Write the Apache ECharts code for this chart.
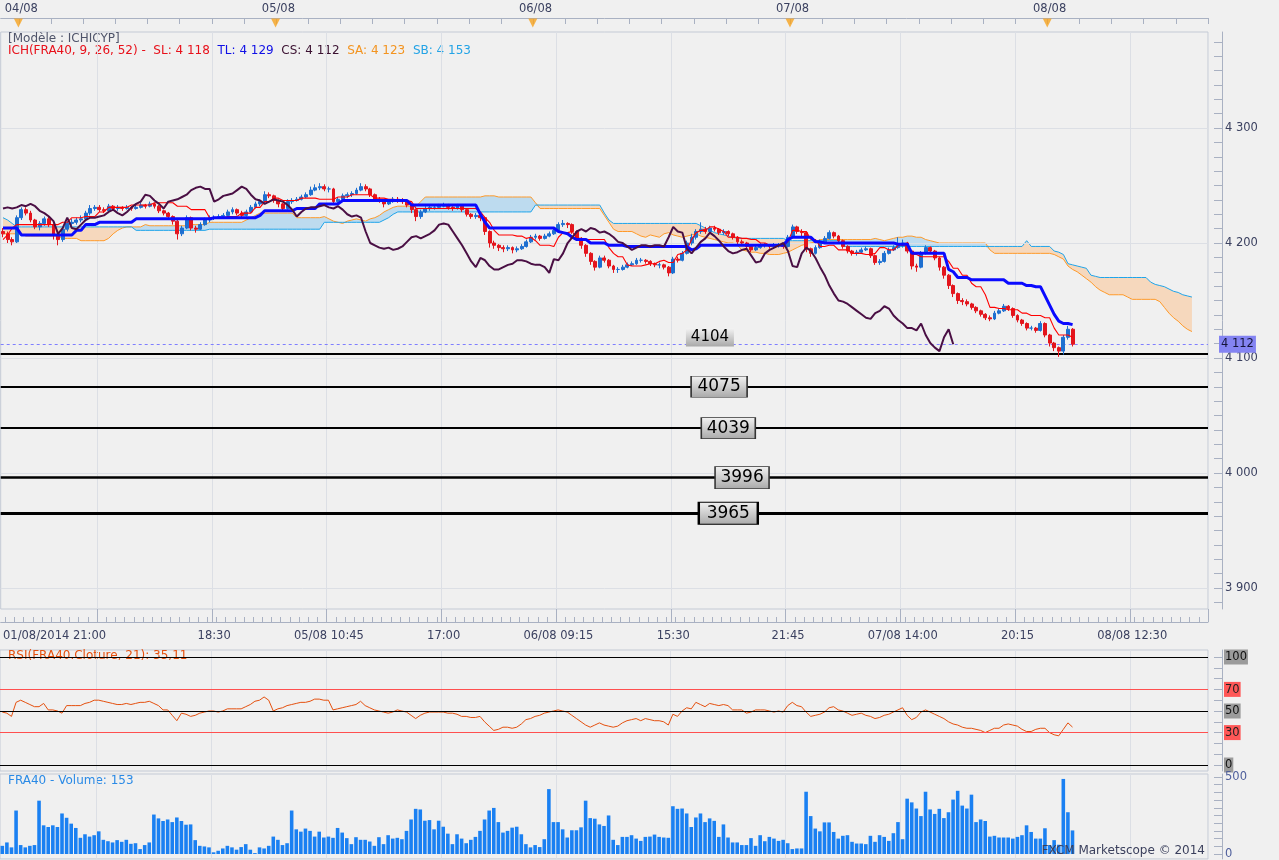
<!DOCTYPE html>
<html>
<head>
<meta charset="utf-8">
<title>FRA40 Ichimoku</title>
<script src="https://cdn.jsdelivr.net/npm/echarts@6/dist/echarts.min.js"></script>
<style>
html, body { margin: 0; padding: 0; background: #f0f0f0; }
#chart { width: 1279px; height: 860px; }
</style>
</head>
<body>
<div id="chart"></div>
<script>
// ---- data (15 min bars) ----
var closes = [
  4208,4203,4201,4222,4229,4226,4220,4214,4217,4221,
  4216,4207,4203,4212,4217,4218,4220,4221,4226,4230,
  4231,4229,4228,4232,4230,4231,4230,4231,4230,4231,
  4233,4232,4234,4232,4228,4226,4223,4219,4208,4213,
  4222,4213,4212,4216,4220,4222,4222,4223,4224,4227,
  4229,4226,4224,4227,4231,4234,4236,4242,4241,4237,
  4234,4230,4236,4237,4238,4240,4242,4246,4248,4249,
  4247,4247,4236,4238,4241,4242,4243,4246,4249,4247,
  4242,4238,4237,4234,4236,4238,4237,4236,4233,4229,
  4223,4227,4230,4231,4231,4232,4233,4231,4230,4232,
  4229,4225,4223,4224,4222,4210,4200,4198,4196,4195,
  4196,4194,4195,4197,4201,4205,4206,4204,4206,4208,
  4211,4216,4217,4216,4210,4204,4198,4191,4184,4179,
  4187,4185,4180,4177,4177,4179,4181,4182,4185,4185,
  4184,4182,4181,4181,4179,4174,4186,4185,4191,4200,
  4205,4210,4212,4210,4213,4212,4209,4210,4208,4205,
  4201,4200,4197,4194,4196,4198,4198,4197,4198,4198,
  4197,4205,4214,4210,4209,4195,4191,4196,4201,4204,
  4209,4206,4202,4197,4193,4191,4192,4194,4195,4189,
  4183,4184,4191,4194,4196,4198,4200,4193,4180,4179,
  4191,4196,4193,4187,4179,4172,4163,4156,4150,4149,
  4147,4144,4141,4138,4135,4134,4139,4141,4145,4143,
  4137,4133,4130,4126,4126,4124,4130,4120,4113,4109,
  4106,4118,4125,4112
];
var opens = [
  4210,4208,4203,4201,4222,4229,4226,4220,4214,4217,
  4221,4216,4207,4203,4212,4217,4218,4220,4221,4226,
  4230,4231,4229,4228,4232,4230,4231,4230,4231,4230,
  4231,4233,4232,4234,4232,4228,4226,4223,4219,4208,
  4213,4222,4213,4212,4216,4220,4222,4222,4223,4224,
  4227,4229,4226,4224,4227,4231,4234,4236,4242,4241,
  4237,4234,4230,4236,4237,4238,4240,4242,4246,4248,
  4249,4247,4247,4236,4238,4241,4242,4243,4246,4249,
  4247,4242,4238,4237,4234,4236,4238,4237,4236,4233,
  4229,4223,4227,4230,4231,4231,4232,4233,4231,4230,
  4232,4229,4225,4223,4224,4222,4210,4200,4198,4196,
  4195,4196,4194,4195,4197,4201,4205,4206,4204,4206,
  4208,4211,4216,4217,4216,4210,4204,4198,4191,4184,
  4179,4187,4185,4180,4177,4177,4179,4181,4182,4185,
  4185,4184,4182,4181,4181,4179,4174,4186,4185,4191,
  4200,4205,4210,4212,4210,4213,4212,4209,4210,4208,
  4205,4201,4200,4197,4194,4196,4198,4198,4197,4198,
  4198,4197,4205,4214,4210,4209,4195,4191,4196,4201,
  4204,4209,4206,4202,4197,4193,4191,4192,4194,4195,
  4189,4183,4184,4191,4194,4196,4198,4200,4193,4180,
  4179,4191,4196,4193,4187,4179,4172,4163,4156,4150,
  4149,4147,4144,4141,4138,4135,4134,4139,4141,4145,
  4143,4137,4133,4130,4126,4126,4124,4130,4120,4113,
  4109,4106,4118,4125
];
var lows = [
  4205,4200,4198,4200,4220,4224,4218,4212,4211,4215,
  4214,4203,4198,4201,4210,4215,4216,4218,4219,4224,
  4228,4227,4226,4226,4228,4228,4228,4229,4228,4229,
  4230,4230,4231,4230,4226,4224,4221,4216,4203,4206,
  4212,4211,4209,4211,4215,4218,4220,4221,4222,4223,
  4225,4224,4222,4223,4226,4230,4232,4235,4239,4235,
  4231,4227,4229,4234,4236,4237,4239,4241,4245,4246,
  4245,4244,4233,4234,4237,4239,4240,4242,4245,4245,
  4240,4236,4235,4231,4233,4235,4235,4234,4231,4226,
  4219,4221,4226,4228,4229,4230,4231,4229,4228,4229,
  4227,4223,4221,4221,4219,4207,4196,4195,4193,4192,
  4193,4191,4192,4194,4196,4200,4203,4202,4203,4205,
  4207,4210,4214,4213,4208,4202,4195,4188,4181,4176,
  4178,4183,4178,4174,4174,4176,4178,4180,4181,4183,
  4182,4180,4179,4178,4177,4171,4173,4183,4184,4190,
  4198,4203,4208,4208,4209,4210,4207,4207,4206,4203,
  4199,4198,4195,4192,4193,4195,4196,4195,4196,4196,
  4195,4196,4204,4208,4206,4192,4188,4190,4195,4200,
  4203,4204,4200,4195,4191,4189,4189,4191,4193,4187,
  4181,4181,4183,4190,4193,4195,4196,4191,4177,4175,
  4178,4190,4191,4185,4176,4169,4160,4153,4147,4146,
  4145,4142,4139,4136,4133,4132,4133,4138,4140,4141,
  4135,4131,4128,4124,4124,4122,4123,4118,4110,4106,
  4101,4103,4116,4110
];
var highs = [
  4213,4210,4205,4224,4231,4231,4228,4221,4219,4223,
  4223,4217,4209,4214,4219,4221,4222,4224,4228,4233,
  4233,4233,4231,4234,4233,4233,4232,4233,4232,4233,
  4235,4234,4236,4235,4233,4229,4227,4224,4220,4215,
  4224,4223,4215,4218,4222,4224,4224,4225,4226,4229,
  4231,4230,4228,4229,4233,4236,4238,4245,4244,4242,
  4238,4235,4238,4239,4240,4242,4244,4249,4251,4252,
  4251,4249,4248,4240,4243,4244,4245,4248,4252,4251,
  4248,4243,4240,4238,4238,4240,4240,4239,4237,4234,
  4230,4229,4232,4233,4233,4234,4235,4234,4232,4234,
  4233,4230,4226,4226,4226,4223,4211,4202,4199,4198,
  4198,4197,4197,4199,4203,4207,4208,4207,4208,4210,
  4213,4218,4220,4218,4217,4211,4205,4199,4192,4185,
  4189,4189,4186,4181,4179,4181,4183,4184,4187,4187,
  4186,4185,4183,4183,4182,4180,4188,4188,4193,4202,
  4208,4212,4218,4214,4215,4215,4213,4212,4211,4209,
  4206,4203,4201,4198,4198,4200,4200,4199,4200,4200,
  4199,4207,4216,4215,4212,4210,4196,4198,4203,4206,
  4211,4210,4207,4203,4198,4194,4194,4196,4197,4196,
  4190,4186,4193,4196,4198,4205,4203,4201,4194,4182,
  4193,4198,4197,4194,4188,4180,4173,4164,4157,4152,
  4151,4148,4145,4142,4139,4137,4141,4143,4147,4146,
  4144,4138,4134,4131,4128,4127,4132,4131,4121,4114,
  4110,4120,4128,4126
];
// Tenkan-sen (SL) and Kijun-sen (TL)
var tenkan = [
  4203,4207,4213,4216,4216,4216,4216,4216,4216,4216,
  4216,4216,4216,4218,4218,4222,4222,4222,4223,4223,
  4223,4227,4227,4231,4231,4231,4231,4231,4233,4233,
  4233,4233,4233,4235,4235,4235,4235,4235,4232,4232,
  4232,4229,4229,4229,4229,4222,4222,4222,4222,4223,
  4223,4223,4226,4226,4226,4231,4231,4236,4236,4239,
  4239,4237,4237,4237,4237,4239,4239,4239,4239,4238,
  4238,4238,4238,4240,4240,4240,4242,4242,4242,4242,
  4242,4239,4239,4239,4238,4238,4237,4237,4237,4236,
  4230,4230,4230,4230,4230,4230,4230,4230,4230,4230,
  4230,4230,4230,4230,4227,4222,4218,4211,4207,4207,
  4207,4207,4206,4206,4204,4205,4202,4198,4198,4198,
  4197,4205,4209,4209,4210,4204,4204,4203,4203,4203,
  4203,4203,4196,4191,4188,4188,4181,4180,4180,4180,
  4181,4182,4182,4184,4185,4183,4183,4190,4191,4194,
  4203,4209,4211,4211,4214,4214,4212,4210,4205,4205,
  4205,4204,4204,4203,4203,4200,4200,4198,4198,4198,
  4198,4201,4211,4211,4210,4210,4203,4203,4197,4197,
  4198,4198,4194,4194,4194,4191,4191,4191,4190,4190,
  4191,4196,4196,4194,4194,4198,4198,4198,4190,4190,
  4188,4188,4188,4188,4188,4188,4184,4178,4178,4172,
  4172,4165,4162,4162,4155,4144,4144,4143,4143,4142,
  4142,4142,4139,4139,4137,4137,4137,4135,4135,4126,
  4120,4120,4120,4118
];
var kijun = [
  4213,4213,4213,4213,4207,4207,4207,4207,4207,4207,
  4207,4207,4207,4207,4207,4207,4211,4211,4216,4216,
  4216,4218,4218,4218,4218,4218,4218,4218,4218,4221,
  4221,4221,4221,4221,4221,4221,4221,4221,4221,4221,
  4221,4221,4221,4221,4221,4221,4222,4222,4222,4222,
  4222,4222,4222,4222,4222,4222,4224,4228,4228,4228,
  4228,4228,4228,4228,4230,4230,4230,4230,4230,4234,
  4234,4234,4234,4234,4237,4237,4237,4237,4237,4237,
  4237,4237,4237,4237,4237,4237,4237,4237,4237,4233,
  4233,4233,4233,4233,4233,4233,4233,4233,4233,4233,
  4233,4233,4233,4233,4225,4218,4213,4213,4213,4213,
  4213,4213,4213,4213,4213,4213,4213,4213,4213,4213,
  4213,4210,4209,4208,4205,4203,4203,4203,4200,4200,
  4200,4200,4198,4198,4198,4198,4197,4197,4197,4197,
  4197,4197,4197,4197,4197,4197,4197,4197,4197,4197,
  4194,4195,4198,4198,4198,4198,4198,4198,4198,4198,
  4198,4198,4198,4198,4198,4198,4198,4198,4198,4198,
  4198,4203,4205,4205,4205,4205,4205,4201,4201,4200,
  4200,4200,4200,4200,4200,4200,4200,4200,4200,4200,
  4200,4200,4200,4200,4200,4199,4199,4199,4191,4191,
  4191,4191,4191,4191,4191,4191,4177,4175,4170,4170,
  4170,4168,4168,4168,4168,4168,4168,4168,4168,4165,
  4165,4165,4165,4163,4163,4162,4162,4154,4146,4138,
  4132,4130,4130,4129
];
// Senkou span A / B, already displaced 26 bars forward (260 points)
var spanA = [
  4208,4208,4208,4208,4208,4206,4206,4206,4206,4206,
  4206,4206,4206,4204,4204,4204,4204,4202,4202,4202,
  4202,4202,4202,4204,4208,4211,4213,4214,4214,4214,
  4214,4216,4215,4215,4215,4215,4215,4215,4215,4215,
  4215,4216,4216,4216,4216,4218,4218,4218,4218,4218,
  4218,4218,4218,4220,4222,4224,4226,4226,4226,4226,
  4226,4226,4226,4226,4222,4222,4222,4222,4222,4222,
  4223,4221,4219,4218,4217,4219,4220,4221,4220,4219,
  4221,4222,4224,4227,4229,4231,4232,4232,4232,4232,
  4232,4236,4240,4240,4240,4240,4240,4240,4240,4240,
  4240,4240,4240,4240,4240,4241,4241,4241,4240,4240,
  4240,4240,4240,4240,4240,4240,4235,4230,4230,4230,
  4230,4230,4230,4230,4230,4230,4230,4230,4230,4230,
  4230,4224,4218,4212,4210,4210,4210,4210,4208,4206,
  4205,4207,4206,4205,4208,4209,4207,4206,4205,4206,
  4207,4208,4206,4205,4204,4203,4202,4201,4200,4200,
  4198,4194,4193,4192,4192,4191,4191,4190,4190,4190,
  4191,4192,4194,4196,4198,4199,4200,4201,4203,4203,
  4203,4203,4203,4203,4203,4203,4203,4203,4203,4203,
  4204,4203,4202,4203,4204,4205,4205,4206,4206,4205,
  4205,4203,4202,4201,4200,4200,4200,4200,4200,4200,
  4200,4200,4200,4200,4200,4194,4191,4191,4191,4191,
  4191,4191,4191,4191,4191,4191,4191,4191,4191,4190,
  4188,4186,4180,4177,4175,4172,4169,4166,4162,4159,
  4157,4155,4155,4155,4155,4153,4151,4151,4151,4151,
  4151,4151,4149,4144,4139,4135,4132,4128,4125,4123
];
var spanB = [
  4222,4220,4217,4214,4214,4214,4214,4214,4214,4214,
  4214,4214,4214,4214,4214,4214,4214,4214,4214,4214,
  4214,4214,4214,4214,4214,4214,4214,4214,4214,4211,
  4211,4211,4211,4211,4211,4211,4211,4211,4211,4211,
  4211,4211,4211,4211,4211,4212,4212,4212,4212,4212,
  4212,4212,4212,4212,4212,4212,4212,4212,4212,4212,
  4212,4212,4212,4212,4212,4212,4212,4212,4212,4212,
  4218,4218,4218,4218,4218,4218,4218,4218,4218,4218,
  4218,4218,4218,4220,4222,4225,4227,4227,4227,4227,
  4227,4227,4227,4227,4227,4227,4227,4227,4227,4227,
  4227,4227,4227,4227,4227,4227,4227,4227,4227,4227,
  4227,4227,4227,4227,4227,4227,4233,4233,4233,4233,
  4233,4233,4233,4233,4233,4233,4233,4233,4233,4233,
  4233,4226,4220,4217,4217,4217,4217,4217,4217,4217,
  4217,4217,4217,4217,4217,4217,4217,4217,4217,4217,
  4217,4217,4215,4213,4211,4209,4208,4207,4206,4205,
  4204,4204,4204,4204,4204,4204,4204,4204,4204,4204,
  4204,4202,4202,4202,4202,4202,4202,4202,4202,4202,
  4202,4202,4202,4197,4197,4197,4197,4197,4197,4197,
  4197,4197,4197,4197,4197,4197,4197,4197,4197,4197,
  4197,4197,4197,4197,4197,4197,4197,4197,4197,4197,
  4197,4197,4197,4197,4197,4197,4197,4197,4197,4197,
  4197,4197,4197,4202,4197,4197,4197,4197,4197,4193,
  4192,4190,4182,4181,4180,4179,4178,4172,4171,4170,
  4170,4170,4170,4170,4170,4170,4170,4170,4170,4170,
  4166,4164,4163,4162,4160,4158,4157,4155,4154,4153
];
var rsi = [
  49,48,45,58,60,58,56,54,54,57,
  51,51,50,48,55,55,55,55,57,58,
  60,60,59,58,57,56,56,57,56,57,
  58,58,59,57,55,51,51,46,41,48,
  47,45,46,48,49,50,50,49,50,52,
  52,52,52,54,56,59,60,63,60,50,
  52,53,55,56,57,58,58,59,61,61,
  60,60,51,52,53,54,55,56,59,55,
  53,51,50,49,48,49,51,50,49,46,
  43,46,48,49,49,49,49,48,48,47,
  45,45,44,44,45,40,36,32,33,35,
  35,34,35,38,42,43,45,46,48,49,
  50,51,50,49,46,43,40,37,35,37,
  39,37,36,35,36,39,41,42,43,41,
  43,42,41,41,40,37,47,45,50,53,
  52,58,56,54,57,56,55,56,55,51,
  51,51,48,49,51,51,51,50,49,50,
  49,55,58,55,54,49,45,46,47,49,
  53,54,51,50,48,46,47,48,46,45,
  43,44,46,47,49,51,53,46,42,44,
  49,51,49,47,45,43,40,38,37,35,
  34,34,33,32,30,32,34,34,37,38,
  37,36,33,31,31,33,34,34,30,28,
  27,33,39,35.11
];
var volume = [
  53,75,43,282,58,43,53,58,346,186,
  175,186,175,263,235,197,169,105,128,113,
  122,147,92,83,75,90,79,92,66,70,
  32,58,75,256,231,214,224,207,237,214,
  190,192,90,53,49,43,11,21,36,53,
  43,28,45,64,28,6,43,36,53,113,
  92,58,70,282,160,145,165,150,113,145,
  107,113,105,169,139,103,64,109,92,92,
  81,53,109,64,122,100,105,96,150,224,
  293,289,216,220,160,216,177,132,64,128,
  100,70,92,111,150,224,282,299,207,139,
  150,171,177,128,64,43,58,45,96,421,
  207,207,160,107,154,154,173,346,233,229,
  192,182,250,92,58,111,111,122,100,85,
  111,113,126,111,107,105,310,293,295,263,
  175,237,263,207,231,215,111,192,107,75,
  75,58,58,103,53,122,83,111,100,85,
  92,70,32,36,36,404,246,165,147,205,
  205,143,100,118,122,79,68,68,64,118,
  79,122,111,85,135,207,96,359,335,295,
  246,404,289,260,293,233,271,353,410,314,
  295,385,207,224,214,113,118,107,107,107,
  100,111,122,186,143,100,100,167,58,90,
  60,487,271,153
];
var levels = [4104, 4075, 4039, 3996, 3965];

// axis labels
var priceLabels = [3900, 4000, 4100, 4200, 4300];
var rsiLabels = [0, 30, 50, 70, 100];
var volLabels = [0, 500];
var dayStart = [4, 60, 116, 172, 228];
var dayText = ['04/08', '05/08', '06/08', '07/08', '08/08'];
var tickIdx = [0, 21, 46, 71, 96, 121, 146, 171, 196, 221, 246];
var tickText = ['01/08/2014 21:00', '', '18:30', '05/08 10:45', '17:00', '06/08 09:15',
                '15:30', '21:45', '07/08 14:00', '20:15', '08/08 12:30'];

// ---- bar times: friday evening tail, then 08:00-22:00 sessions ----
function pad(n) { return (n < 10 ? '0' : '') + n; }
var cats = ['01/08 21:00', '01/08 21:15', '01/08 21:30', '01/08 21:45'];
dayText.forEach(function (d) {
  for (var k = 0; k < 56; k++) {
    var m = 480 + 15 * k;
    cats.push(d + ' ' + pad(Math.floor(m / 60)) + ':' + pad(m % 60));
  }
});
cats = cats.slice(0, 263);

var FONT = 'DejaVu Sans';
var AX = 11.5;   // axis font size
var HD = 12;     // header font size
var TXT = '#3b4160';
var GRIDLINE = '#dcdfe5';
var BORDER = '#c4cad5';
var last = closes.length - 1;

function sp(v) { return String(v).replace(/\B(?=(\d{3})+(?!\d))/g, ' '); }
function isMajor(i) { return i >= 21 && (i - 21) % 25 === 0; }

var candles = closes.map(function (c, i) { return [opens[i], c, lows[i], highs[i]]; });
var chikou = closes.slice(26);   // close drawn 26 bars back
var cloudBase = spanA.map(function (a, i) { return Math.min(a, spanB[i]); });
var cloudUp = spanA.map(function (a, i) { return a > spanB[i] ? a - spanB[i] : 0; });
var cloudDown = spanA.map(function (a, i) { return spanB[i] > a ? spanB[i] - a : 0; });

var priceTicks = [];
for (var v = 3887.5; v < 4383; v += 12.5) priceTicks.push(v);

function hiddenX(grid) {
  return {
    type: 'category', data: cats, gridIndex: grid, boundaryGap: true,
    axisLine: { show: false, onZero: false }, axisTick: { show: false }, axisLabel: { show: false },
    splitLine: { show: true, interval: function (i) { return isMajor(i); }, lineStyle: { color: GRIDLINE } }
  };
}

var chart = echarts.init(document.getElementById('chart'));
chart.setOption({
  animation: false,
  backgroundColor: '#f0f0f0',
  textStyle: { fontFamily: FONT },
  grid: [
    { left: 0, top: 32, width: 1208, height: 577, show: true, borderColor: BORDER, backgroundColor: 'transparent' },
    { left: 0, top: 650, width: 1208, height: 121, show: true, borderColor: BORDER, backgroundColor: 'transparent' },
    { left: 0, top: 774, width: 1208, height: 86, show: true, borderColor: BORDER, backgroundColor: 'transparent' },
    { left: 0, top: 18, width: 1208, height: 10 }
  ],
  xAxis: [
    {
      type: 'category', data: cats, gridIndex: 0, position: 'bottom', offset: 13, boundaryGap: true,
      axisLine: { show: true, onZero: false, lineStyle: { color: '#a9b1c2' } },
      axisTick: { show: true, inside: true, length: 13, interval: function (i) { return isMajor(i); }, lineStyle: { color: '#a9b1c2' } },
      axisLabel: {
        show: true, color: TXT, fontSize: AX, fontFamily: FONT, margin: 8, alignMinLabel: 'left',
        interval: function (i) { var k = tickIdx.indexOf(i); return k >= 0 && tickText[k] !== ''; },
        formatter: function (val, i) { var k = tickIdx.indexOf(i); return k >= 0 ? tickText[k] : ''; }
      },
      splitLine: { show: true, interval: function (i) { return isMajor(i); }, lineStyle: { color: GRIDLINE } }
    },
    {
      type: 'category', data: cats, gridIndex: 0, position: 'bottom', offset: 13, boundaryGap: true,
      axisLine: { show: false, onZero: false },
      axisTick: { show: true, inside: true, length: 5, interval: function (i) { return i % 2 === 1; }, lineStyle: { color: '#a9b1c2' } },
      axisLabel: { show: false }, splitLine: { show: false }
    },
    {
      type: 'category', data: cats, gridIndex: 0, position: 'top', offset: 14, boundaryGap: true,
      axisLine: { show: true, onZero: false, lineStyle: { color: '#a9b1c2' } },
      axisTick: { show: true, inside: true, length: 6, interval: function (i) { return i >= 4 && (i - 4) % 7 === 0; }, lineStyle: { color: '#a9b1c2' } },
      axisLabel: {
        show: true, color: TXT, fontSize: AX, fontFamily: FONT, margin: 3,
        interval: function (i) { return dayStart.indexOf(i) >= 0; },
        formatter: function (val, i) { var k = dayStart.indexOf(i); return k >= 0 ? dayText[k] : ''; }
      },
      splitLine: { show: false }
    },
    hiddenX(1),
    hiddenX(2),
    {
      type: 'category', data: cats, gridIndex: 3, boundaryGap: true,
      axisLine: { show: false, onZero: false }, axisTick: { show: false }, axisLabel: { show: false }, splitLine: { show: false }
    }
  ],
  yAxis: [
    {
      type: 'value', gridIndex: 0, position: 'right', offset: 14, min: 3881.74, max: 4383.48, scale: true,
      axisLine: { show: true, lineStyle: { color: '#a9b1c2' } },
      axisTick: { show: true, inside: true, length: 8, customValues: priceTicks, lineStyle: { color: '#a9b1c2' } },
      axisLabel: { show: true, customValues: priceLabels, color: TXT, fontSize: AX, fontFamily: FONT, margin: 3,
        formatter: function (v) { return sp(v); } },
      splitLine: { show: false }
    },
    {
      type: 'value', gridIndex: 1, position: 'right', offset: 14, min: -5.56, max: 106.48,
      axisLine: { show: true, lineStyle: { color: '#a9b1c2' } },
      axisTick: { show: true, inside: true, length: 8, customValues: [0, 10, 20, 30, 40, 50, 60, 70, 80, 90, 100], lineStyle: { color: '#a9b1c2' } },
      axisLabel: {
        show: true, customValues: rsiLabels, margin: 2,
        formatter: function (v) { return (v === 30 || v === 70) ? '{r|' + v + '}' : '{g|' + v + '}'; },
        rich: {
          g: { backgroundColor: '#9b9b9b', color: '#111', fontSize: AX, fontFamily: FONT, padding: [2, 1, 1, 1] },
          r: { backgroundColor: '#ff5757', color: '#222', fontSize: AX, fontFamily: FONT, padding: [2, 1, 1, 1] }
        }
      },
      splitLine: { show: false }
    },
    {
      type: 'value', gridIndex: 2, position: 'right', offset: 14, min: -32, max: 519,
      axisLine: { show: true, lineStyle: { color: '#a9b1c2' } },
      axisTick: { show: true, inside: true, length: 8, customValues: [0, 50, 100, 150, 200, 250, 300, 350, 400, 450, 500], lineStyle: { color: '#a9b1c2' } },
      axisLabel: { show: true, customValues: volLabels, color: '#4f5f9c', fontSize: AX, fontFamily: FONT, margin: 3 },
      splitLine: { show: false }
    },
    { type: 'value', gridIndex: 3, min: 0, max: 1, show: false }
  ],
  series: [
    {
      name: 'grid', type: 'line', xAxisIndex: 0, yAxisIndex: 0, data: [], z: 1, silent: true,
      markLine: { silent: true, symbol: ['none', 'none'], label: { show: false },
        lineStyle: { color: GRIDLINE, width: 1, type: 'solid' },
        data: priceLabels.map(function (p) { return { yAxis: p }; }) }
    },
    {
      name: 'cloudBase', type: 'line', xAxisIndex: 0, yAxisIndex: 0, stack: 'cloud', data: cloudBase,
      symbol: 'none', lineStyle: { width: 0, opacity: 0 }, z: 2, silent: true
    },
    {
      name: 'cloudUp', type: 'line', xAxisIndex: 0, yAxisIndex: 0, stack: 'cloud', data: cloudUp,
      symbol: 'none', lineStyle: { width: 0, opacity: 0 }, areaStyle: { color: '#bddbef', opacity: 1 }, z: 2, silent: true
    },
    {
      name: 'cloudDown', type: 'line', xAxisIndex: 0, yAxisIndex: 0, stack: 'cloud', data: cloudDown,
      symbol: 'none', lineStyle: { width: 0, opacity: 0 }, areaStyle: { color: '#f6d8bd', opacity: 1 }, z: 2, silent: true
    },
    {
      name: 'SA', type: 'line', xAxisIndex: 0, yAxisIndex: 0, data: spanA, symbol: 'none',
      lineStyle: { color: '#ff9a2a', width: 1 }, z: 3
    },
    {
      name: 'SB', type: 'line', xAxisIndex: 0, yAxisIndex: 0, data: spanB, symbol: 'none',
      lineStyle: { color: '#1ea4ea', width: 1 }, z: 3
    },
    {
      name: 'levels', type: 'line', xAxisIndex: 0, yAxisIndex: 0, data: [], z: 4, silent: true,
      markLine: {
        silent: true, symbol: ['none', 'none'], label: { show: false },
        lineStyle: { color: '#000', type: 'solid' },
        data: [
          { yAxis: levels[0], lineStyle: { width: 2 } },
          { yAxis: levels[1], lineStyle: { width: 2 } },
          { yAxis: levels[2], lineStyle: { width: 2 } },
          { yAxis: levels[3], lineStyle: { width: 2.5 } },
          { yAxis: levels[4], lineStyle: { width: 3 } }
        ]
      }
    },
    {
      name: 'FRA40', type: 'candlestick', xAxisIndex: 0, yAxisIndex: 0, data: candles, barWidth: 3.4, z: 5,
      itemStyle: { color: '#1e6fd0', color0: '#e3151d', borderColor: '#1e6fd0', borderColor0: '#e3151d', borderWidth: 1 },
      markLine: {
        silent: true, symbol: ['none', 'none'],
        lineStyle: { color: '#7f7fff', type: [3, 3], width: 1 },
        label: { show: true, position: 'end', distance: 11, formatter: sp(closes[last]),
          backgroundColor: '#8484f2', color: '#15153a', fontSize: AX, fontFamily: FONT, padding: [3, 2, 2, 2] },
        data: [{ yAxis: closes[last] }]
      }
    },
    {
      name: 'SL', type: 'line', xAxisIndex: 0, yAxisIndex: 0, data: tenkan, symbol: 'none',
      lineStyle: { color: '#ff0000', width: 1.1 }, z: 6
    },
    {
      name: 'TL', type: 'line', xAxisIndex: 0, yAxisIndex: 0, data: kijun, symbol: 'none',
      lineStyle: { color: '#0a0aff', width: 3 }, z: 7
    },
    {
      name: 'CS', type: 'line', xAxisIndex: 0, yAxisIndex: 0, data: chikou, symbol: 'none',
      lineStyle: { color: '#4a0f44', width: 2 }, z: 8
    },
    {
      name: 'levelLabels', type: 'line', xAxisIndex: 0, yAxisIndex: 0, data: [], z: 9, silent: true,
      markPoint: {
        silent: true, symbol: 'rect',
        itemStyle: {
          color: new echarts.graphic.LinearGradient(0, 0, 0, 1, [
            { offset: 0, color: '#f2f2f2' }, { offset: 1, color: '#a9a9a9' }
          ]),
          borderColor: '#333', borderWidth: 1
        },
        label: { show: true, position: 'inside', color: '#000', fontSize: 17, fontFamily: FONT,
          formatter: function (p) { return String(p.value); } },
        data: [
          { coord: [154, levels[0]], value: levels[0], symbolSize: [48, 18], symbolOffset: [0, -16],
            itemStyle: { borderWidth: 0 }, label: { fontSize: 15 } },
          { coord: [156, levels[1]], value: levels[1], symbolSize: [56, 21] },
          { coord: [158, levels[2]], value: levels[2], symbolSize: [54, 21] },
          { coord: [161, levels[3]], value: levels[3], symbolSize: [54, 22] },
          { coord: [158, levels[4]], value: levels[4], symbolSize: [59, 22], itemStyle: { borderColor: '#000', borderWidth: 1.5 } }
        ]
      }
    },
    {
      name: 'RSI', type: 'line', xAxisIndex: 3, yAxisIndex: 1, data: rsi, symbol: 'none',
      lineStyle: { color: '#e5500e', width: 1 }, z: 3,
      markLine: {
        silent: true, symbol: ['none', 'none'], label: { show: false },
        lineStyle: { type: 'solid', width: 1 },
        data: [
          { yAxis: 100, lineStyle: { color: '#000' } },
          { yAxis: 70, lineStyle: { color: '#ff5050' } },
          { yAxis: 50, lineStyle: { color: '#000' } },
          { yAxis: 30, lineStyle: { color: '#ff5050' } },
          { yAxis: 0, lineStyle: { color: '#000' } }
        ]
      }
    },
    {
      name: 'Volume', type: 'bar', xAxisIndex: 4, yAxisIndex: 2, data: volume, barWidth: '78%',
      itemStyle: { color: '#1a80f2' }, z: 3
    },
    {
      name: 'days', type: 'scatter', xAxisIndex: 5, yAxisIndex: 3, symbol: 'triangle', symbolRotate: 180,
      symbolSize: [9, 9], symbolOffset: [-2.3, 0], itemStyle: { color: '#f6a21e' }, silent: true,
      data: dayStart.map(function (i) { return [i, 0.5]; })
    }
  ],
  graphic: [
    { type: 'text', left: 8, top: 33, silent: true,
      style: { text: '[Modèle : ICHICYP]', fill: '#4f546a', font: HD + 'px "DejaVu Sans"' } },
    { type: 'text', left: 8, top: 45, silent: true,
      style: {
        text: '{r|ICH(FRA40, 9, 26, 52) -  SL: ' + sp(tenkan[last]) + '}  {b|TL: ' + sp(kijun[last]) +
              '}  {p|CS: ' + sp(closes[last]) + '}  {o|SA: ' + sp(spanA[spanA.length - 1]) +
              '}  {c|SB: ' + sp(spanB[spanB.length - 1]) + '}',
        font: HD + 'px "DejaVu Sans"', fill: '#e8101a',
        rich: {
          r: { fill: '#e8101a', fontSize: HD, fontFamily: FONT },
          b: { fill: '#1010e6', fontSize: HD, fontFamily: FONT },
          p: { fill: '#3a1030', fontSize: HD, fontFamily: FONT },
          o: { fill: '#f39420', fontSize: HD, fontFamily: FONT },
          c: { fill: '#22a3e6', fontSize: HD, fontFamily: FONT }
        }
      } },
    { type: 'text', left: 8, top: 650, silent: true,
      style: { text: 'RSI(FRA40.Cloture, 21): ' + String(rsi[last]).replace('.', ','), fill: '#e5500e', font: HD + 'px "DejaVu Sans"' } },
    { type: 'text', left: 8, top: 775, silent: true,
      style: { text: 'FRA40 - Volume: ' + volume[last], fill: '#2a8ae6', font: HD + 'px "DejaVu Sans"' } },
    { type: 'text', right: 74, top: 845, silent: true, z: 100,
      style: { text: 'FXCM Marketscope © 2014', fill: '#3a3f5c', font: '12px "DejaVu Sans"' } }
  ]
});
</script>
</body>
</html>
